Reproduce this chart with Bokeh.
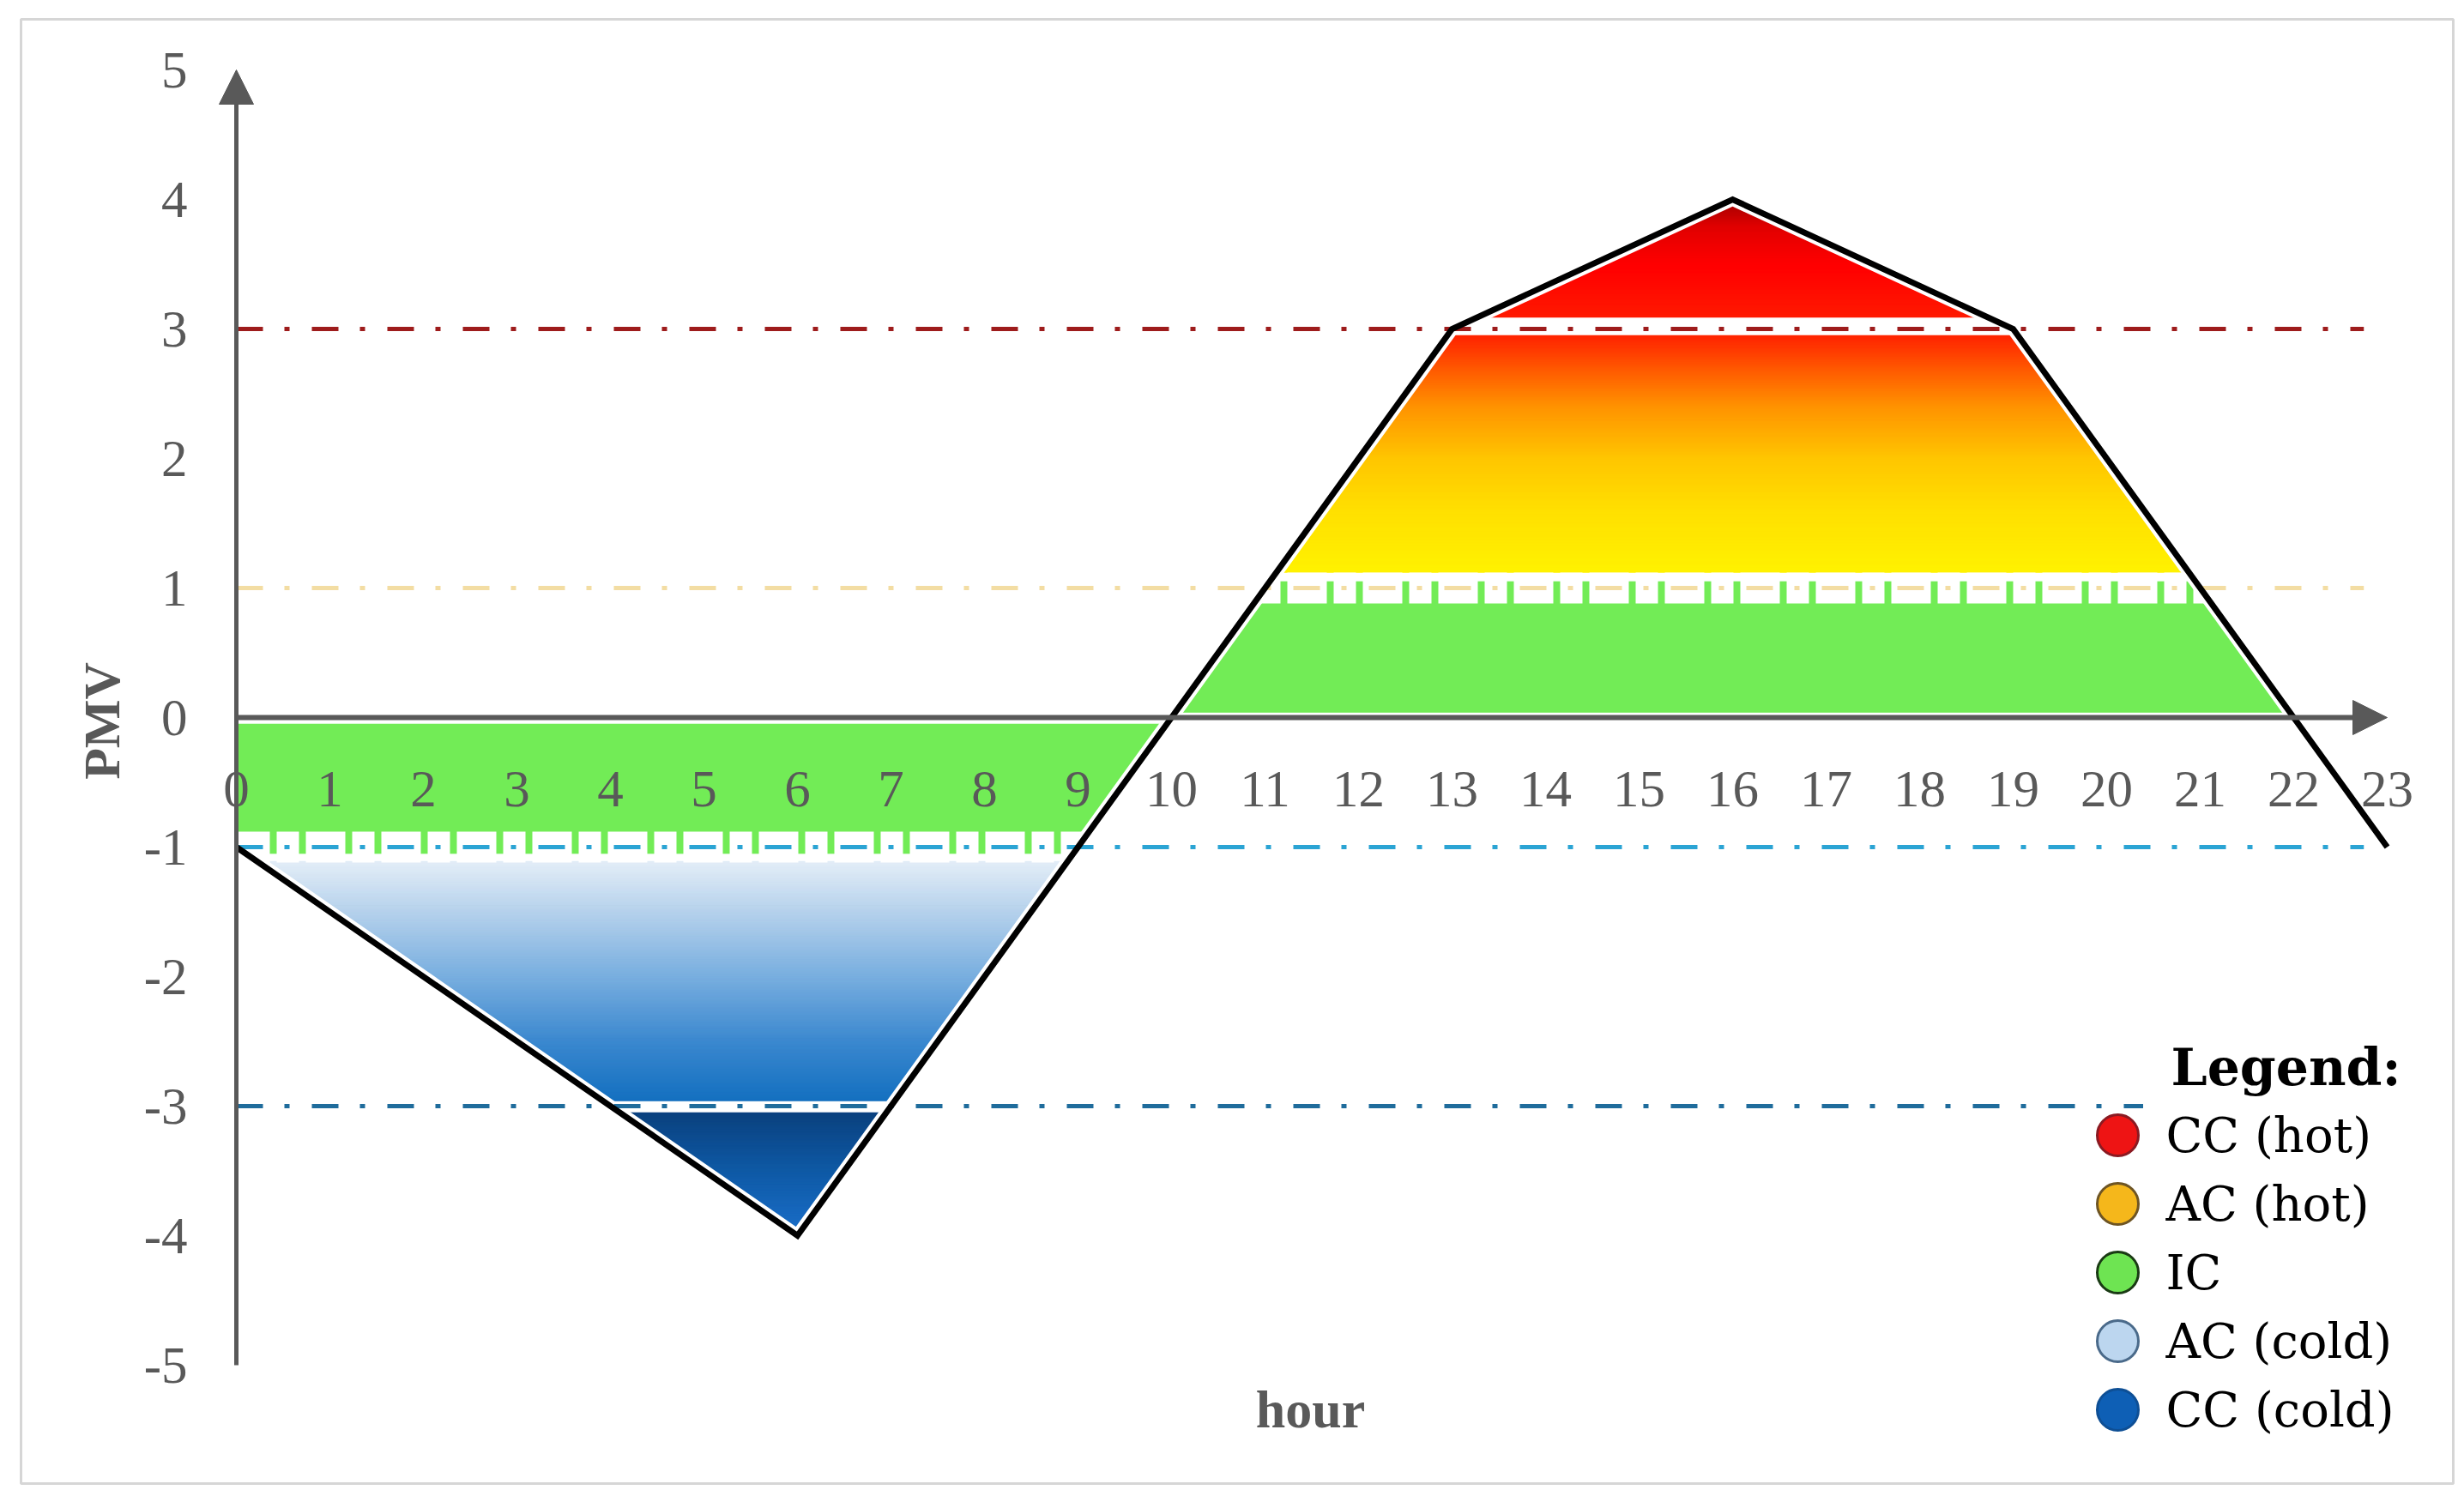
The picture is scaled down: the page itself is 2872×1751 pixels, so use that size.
import numpy as np
from bokeh.plotting import figure
from bokeh.models import Range1d, Arrow, NormalHead
from bokeh.core.properties import value
from bokeh.embed import file_html
from bokeh.resources import INLINE

# ---------------- data ----------------
hours = [0, 6, 10, 13, 16, 19, 22, 23]
pmv = [-1, -4, 0, 3, 4, 3, 0, -1]

x_ticks = list(range(0, 24))
x_tick_labels = [str(h) for h in x_ticks]
y_ticks = [5, 4, 3, 2, 1, 0, -1, -2, -3, -4, -5]
y_tick_labels = [str(v) for v in y_ticks]

thresholds = [3, 1, -1, -3]
threshold_colors = ["#9e1c1c", "#f3dda3", "#2ba4d4", "#1f6c9c"]
threshold_ends = [22.75, 22.75, 22.75, 20.39]

legend_labels = ["CC (hot)", "AC (hot)", "IC", "AC (cold)", "CC (cold)"]
legend_fill = ["#ee1414", "#f5b71b", "#6ee452", "#bcd6ef", "#0e5fb5"]
legend_line = ["#8a1a22", "#6e5524", "#1a3a14", "#4a6a8a", "#0e4f95"]

# zone bands (lower, upper) and their colour stops (value, colour)
hot_cc_band = (3.09, 4.0)
hot_cc_stops = [(3.09, "#ff1a00"), (3.5, "#ff0000"), (3.8, "#e00000"), (4.0, "#a00000")]
hot_ac_band = (1.12, 2.95)
hot_ac_stops = [(1.12, "#fff200"), (1.6, "#ffe000"), (2.0, "#ffc600"),
                (2.4, "#ff9400"), (2.7, "#ff5800"), (2.95, "#ff2400")]
ic_pos_band = (0.04, 1.05)
ic_neg_band = (-1.05, -0.05)
ic_color = "#72ec56"
cold_ac_band = (-2.96, -1.11)
cold_ac_stops = [(-2.96, "#1470c0"), (-2.5, "#3b88cf"), (-2.0, "#78aedf"),
                 (-1.5, "#b5d1ec"), (-1.11, "#e3edf7")]
cold_cc_band = (-4.0, -3.05)
cold_cc_stops = [(-4.0, "#1b6fca"), (-3.5, "#0f5aa6"), (-3.05, "#0b427f")]

# ---------------- layout (page pixels) ----------------
W, H = 2864, 1745
X0_PX, UX = 275.0, 109.0     # page x of hour 0, px per hour
Y0_PX, UY = 836.0, 151.0     # page y of PMV 0, px per unit


def dx(px):
    return (px - X0_PX) / UX


def dy(py):
    return (Y0_PX - py) / UY


p = figure(width=W, height=H, output_backend="svg", toolbar_location=None,
           x_range=Range1d(dx(0), dx(W)),
           y_range=Range1d(dy(H), dy(0)),
           min_border=0, outline_line_color=None)
p.axis.visible = False
p.grid.visible = False
p.background_fill_color = "white"
p.border_fill_color = "white"

# outer frame
p.quad(left=[dx(24)], right=[dx(2859)], top=[dy(22)], bottom=[dy(1729)],
       fill_color=None, line_color="#d6d6d6", line_width=3)

# ---------------- fills ----------------
hx = np.array(hours, float)
hy = np.array(pmv, float)
ip = int(np.argmax(hy))
it = int(np.argmin(hy))
rise_y, rise_x = hy[it:ip + 1], hx[it:ip + 1]          # trough -> peak
fall_y, fall_x = hy[ip:][::-1], hx[ip:][::-1]           # peak -> end (reversed)
desc_y, desc_x = hy[:it + 1][::-1], hx[:it + 1][::-1]   # start -> trough (reversed)


def bounds(y, side):
    if side == "pos":
        return np.interp(y, rise_y, rise_x), np.interp(y, fall_y, fall_x)
    return np.interp(y, desc_y, desc_x), np.interp(y, rise_y, rise_x)


def hex2rgb(h):
    h = h.lstrip("#")
    return np.array([int(h[i:i + 2], 16) for i in (0, 2, 4)], float)


def color_at(stops, y):
    vals = [s[0] for s in stops]
    cols = np.array([hex2rgb(s[1]) for s in stops])
    rgb = [np.interp(y, vals, cols[:, k]) for k in range(3)]
    return "#%02x%02x%02x" % tuple(int(round(c)) for c in rgb)


def strips(band, stops, side, step=0.012):
    lo, hi = band
    n = max(1, int(np.ceil((hi - lo) / step)))
    ys = np.linspace(lo, hi, n + 1)
    xs_l, ys_l, cols = [], [], []
    for k in range(n):
        a = ys[k]
        b = ys[k + 1] + (0.006 if k < n - 1 else 0.0)
        la, ra = bounds(a, side)
        lb, rb = bounds(b, side)
        xs_l.append([la, lb, rb, ra])
        ys_l.append([a, b, b, a])
        cols.append(color_at(stops, 0.5 * (a + b)))
    return xs_l, ys_l, cols


def solid(band, side):
    ys = np.linspace(band[0], band[1], 60)
    left, right = bounds(ys, side)
    return list(left) + list(right[::-1]), list(ys) + list(ys[::-1])


for band, side in [(ic_pos_band, "pos"), (ic_neg_band, "neg")]:
    px_, py_ = solid(band, side)
    p.patch(px_, py_, fill_color=ic_color, line_color=ic_color, line_width=0.6)

for band, stops, side in [(hot_cc_band, hot_cc_stops, "pos"),
                          (hot_ac_band, hot_ac_stops, "pos"),
                          (cold_ac_band, cold_ac_stops, "neg"),
                          (cold_cc_band, cold_cc_stops, "neg")]:
    xs_l, ys_l, cols = strips(band, stops, side)
    p.patches(xs=xs_l, ys=ys_l, fill_color=cols, line_color=cols, line_width=0.6)

# white halo along the PMV line
p.line(hours, pmv, line_color="white", line_width=15, line_join="miter")

# white separating bands under the threshold lines
for t, xe in zip(thresholds, threshold_ends):
    if abs(t) == 1:
        p.line([0, xe], [t, t], line_color="white", line_width=36,
               line_dash="46 8 26 8", line_dash_offset=7)

# threshold dash-dot lines
for t, c, xe in zip(thresholds, threshold_colors, threshold_ends):
    p.line([0, xe], [t, t], line_color=c, line_width=5, line_dash="31 25 6 26")

# axes with arrow heads
axis_col = "#595959"
p.add_layout(Arrow(end=NormalHead(size=40, fill_color=axis_col, line_color=axis_col),
                   x_start=0, y_start=y_ticks[-1], x_end=0, y_end=y_ticks[0],
                   line_color=axis_col, line_width=5))
p.add_layout(Arrow(end=NormalHead(size=40, fill_color=axis_col, line_color=axis_col),
                   x_start=0, y_start=0, x_end=x_ticks[-1], y_end=0,
                   line_color=axis_col, line_width=6))

# PMV line
p.line(hours, pmv, line_color="black", line_width=7, line_join="miter")

# ---------------- texts ----------------
serif = value("Liberation Serif")
p.text(x=[dx(218)] * len(y_ticks), y=y_ticks, text=y_tick_labels,
       text_font=serif, text_font_size=value("61px"), text_color=axis_col,
       text_align="right", text_baseline="middle")
p.text(x=x_ticks, y=[dy(919)] * len(x_ticks), text=x_tick_labels,
       text_font=serif, text_font_size=value("61px"), text_color=axis_col,
       text_align="center", text_baseline="middle")
p.text(x=[dx(118)], y=[dy(840)], text=["PMV"], angle=np.pi / 2,
       text_font=serif, text_font_size=value("60px"), text_font_style="bold",
       text_color=axis_col, text_align="center", text_baseline="middle")
p.text(x=[dx(1527)], y=[dy(1642)], text=["hour"],
       text_font=serif, text_font_size=value("62px"), text_font_style="bold",
       text_color=axis_col, text_align="center", text_baseline="middle")

# legend
leg_font = value("DejaVu Serif")
p.text(x=[dx(2530)], y=[dy(1243)], text=["Legend:"],
       text_font=leg_font, text_font_size=value("60px"), text_font_style="bold",
       text_color="black", text_align="left", text_baseline="middle")
ctr_px = [1323 + 80 * i for i in range(len(legend_labels))]
p.text(x=[dx(2524)] * len(legend_labels), y=[dy(c) for c in ctr_px], text=legend_labels,
       text_font=leg_font, text_font_size=value("56px"), text_color="black",
       text_align="left", text_baseline="middle")
p.scatter(x=[dx(2468)] * len(legend_labels), y=[dy(c) for c in ctr_px],
          marker="circle", size=48, fill_color=legend_fill, line_color=legend_line,
          line_width=3)

open("out.html", "w").write(file_html(p, INLINE))
